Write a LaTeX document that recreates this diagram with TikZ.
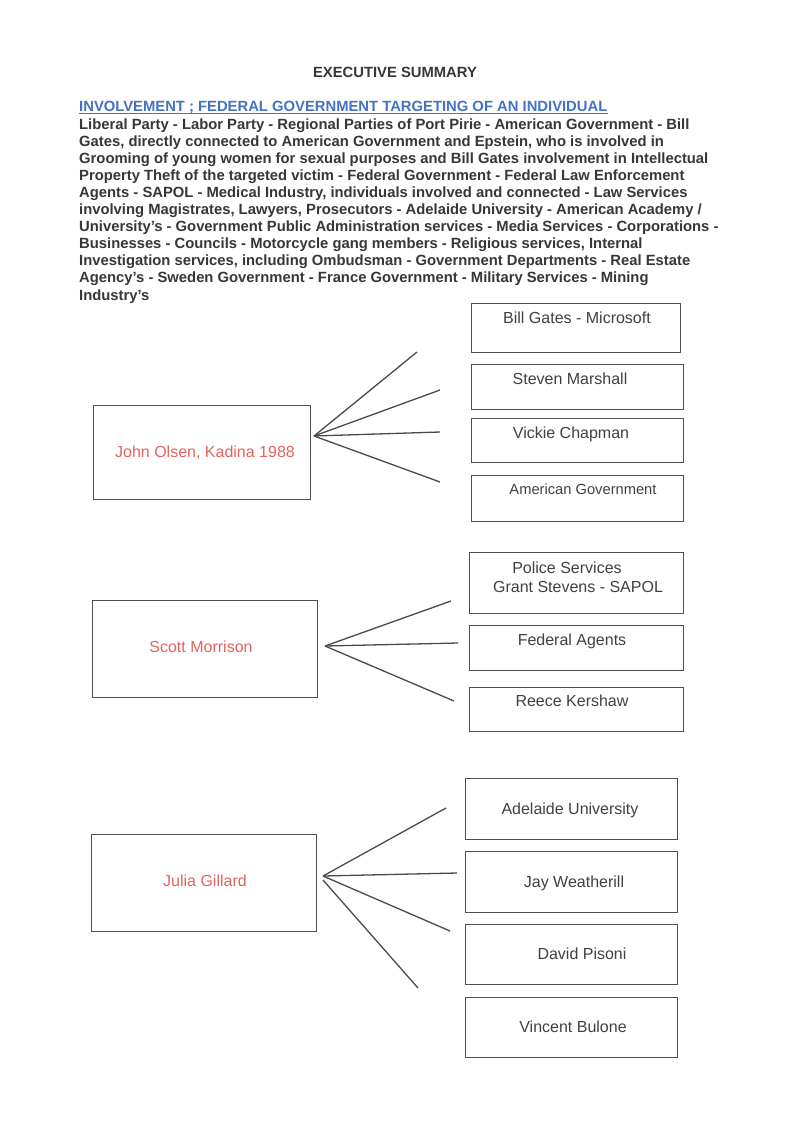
\documentclass[tikz,border=0pt]{standalone}
\usepackage{fontspec}
\setmainfont{Liberation Sans}
\definecolor{boxgray}{RGB}{80,80,80}
\definecolor{linegray}{RGB}{75,75,75}
\definecolor{txtgray}{RGB}{65,65,65}
\definecolor{bodygray}{RGB}{55,55,55}
\definecolor{namered}{RGB}{226,100,94}
\definecolor{headblue}{RGB}{68,114,196}
\begin{document}
\begin{tikzpicture}[x=1pt,y=-1pt,
  box/.style={draw=boxgray, line width=1.4pt, inner sep=0pt, anchor=north west},
  lbl/.style={text=txtgray, font=\fontsize{16}{19}\selectfont, inner sep=0pt, anchor=base},
  lblsmall/.style={text=txtgray, font=\fontsize{14.7}{17}\selectfont, inner sep=0pt, anchor=base},
  pname/.style={text=namered, font=\fontsize{16}{19}\selectfont, inner sep=0pt, anchor=base},
  para/.style={text=bodygray, font=\bfseries\fontsize{14.8}{17.1}\selectfont, inner sep=0pt, anchor=base west},
  conn/.style={draw=linegray, line width=1.3pt}]
\useasboundingbox (0,0) rectangle (794,1122);
\fill[white] (0,0) rectangle (794,1122);

% Title and heading
\node[para, anchor=base] (title) at (395,77) {EXECUTIVE SUMMARY};
\node[para, text=headblue] (head) at (79,111) {INVOLVEMENT ; FEDERAL GOVERNMENT TARGETING OF AN INDIVIDUAL};
\draw[headblue, line width=1.1pt] ([yshift=-2.2pt]head.base west) -- ([yshift=-2.2pt]head.base east);

% Paragraph
\node[para] (l1) at (79,129) {Liberal Party - Labor Party - Regional Parties of Port Pirie - American Government - Bill};
\node[para] (l2) at (79,146.1) {Gates, directly connected to American Government and Epstein, who is involved in};
\node[para] (l3) at (79,163.2) {Grooming of young women for sexual purposes and Bill Gates involvement in Intellectual};
\node[para] (l4) at (79,180.3) {Property Theft of the targeted victim - Federal Government - Federal Law Enforcement};
\node[para] (l5) at (79,197.4) {Agents - SAPOL - Medical Industry, individuals involved and connected - Law Services};
\node[para] (l6) at (79,214.5) {involving Magistrates, Lawyers, Prosecutors - Adelaide University - American Academy /};
\node[para] (l7) at (79,231.6) {University’s - Government Public Administration services - Media Services - Corporations -};
\node[para] (l8) at (79,248.7) {Businesses - Councils - Motorcycle gang members - Religious services, Internal};
\node[para] (l9) at (79,265.8) {Investigation services, including Ombudsman - Government Departments - Real Estate};
\node[para] (l10) at (79,282.9) {Agency’s - Sweden Government - France Government - Military Services - Mining};
\node[para] (l11) at (79,300) {Industry’s};

% Group 1: John Olsen
\node[box, minimum width=217pt, minimum height=94pt] (jo) at (93,405) {};
\node[pname] (jot) at (205,457) {John Olsen, Kadina 1988};
\node[box, minimum width=209pt, minimum height=49pt] (b1) at (471,303) {};
\node[lbl] (b1t) at (577,323) {Bill Gates - Microsoft};
\node[box, minimum width=212pt, minimum height=45pt] (b2) at (471,364) {};
\node[lbl] (b2t) at (570,384) {Steven Marshall};
\node[box, minimum width=212pt, minimum height=44pt] (b3) at (471,418) {};
\node[lbl] (b3t) at (571,438) {Vickie Chapman};
\node[box, minimum width=212pt, minimum height=46pt] (b4) at (471,475) {};
\node[lblsmall] (b4t) at (583,494) {American Government};
\coordinate (jh) at (314,436);
\coordinate (je1) at (417,352);
\coordinate (je2) at (440,390);
\coordinate (je3) at (440,432);
\coordinate (je4) at (440,482);
\draw[conn] (jh) -- (je1);
\draw[conn] (jh) -- (je2);
\draw[conn] (jh) -- (je3);
\draw[conn] (jh) -- (je4);

% Group 2: Scott Morrison
\node[box, minimum width=225pt, minimum height=97pt] (sm) at (92,600) {};
\node[pname] (smt) at (201,652) {Scott Morrison};
\node[box, minimum width=214pt, minimum height=61pt] (p1) at (469,552) {};
\node[lbl] (p1a) at (567,573) {Police Services};
\node[lbl] (p1b) at (578,592) {Grant Stevens - SAPOL};
\node[box, minimum width=214pt, minimum height=45pt] (p2) at (469,625) {};
\node[lbl] (p2t) at (572,645) {Federal Agents};
\node[box, minimum width=214pt, minimum height=44pt] (p3) at (469,687) {};
\node[lbl] (p3t) at (572,706) {Reece Kershaw};
\coordinate (sh) at (325,646);
\coordinate (se1) at (451,601);
\coordinate (se2) at (458,643);
\coordinate (se3) at (454,701);
\draw[conn] (sh) -- (se1);
\draw[conn] (sh) -- (se2);
\draw[conn] (sh) -- (se3);

% Group 3: Julia Gillard
\node[box, minimum width=225pt, minimum height=97pt] (jg) at (91,834) {};
\node[pname] (jgt) at (205,886) {Julia Gillard};
\node[box, minimum width=212pt, minimum height=61pt] (g1) at (465,778) {};
\node[lbl] (g1t) at (570,814) {Adelaide University};
\node[box, minimum width=212pt, minimum height=61pt] (g2) at (465,851) {};
\node[lbl] (g2t) at (574,887) {Jay Weatherill};
\node[box, minimum width=212pt, minimum height=60pt] (g3) at (465,924) {};
\node[lbl] (g3t) at (582,959) {David Pisoni};
\node[box, minimum width=212pt, minimum height=60pt] (g4) at (465,997) {};
\node[lbl] (g4t) at (573,1032) {Vincent Bulone};
\coordinate (gh) at (323,876);
\coordinate (gh2) at (323,880);
\coordinate (ge1) at (446,808);
\coordinate (ge2) at (457,873);
\coordinate (ge3) at (450,931);
\coordinate (ge4) at (418,988);
\draw[conn] (gh) -- (ge1);
\draw[conn] (gh) -- (ge2);
\draw[conn] (gh) -- (ge3);
\draw[conn] (gh2) -- (ge4);
\end{tikzpicture}
\end{document}
